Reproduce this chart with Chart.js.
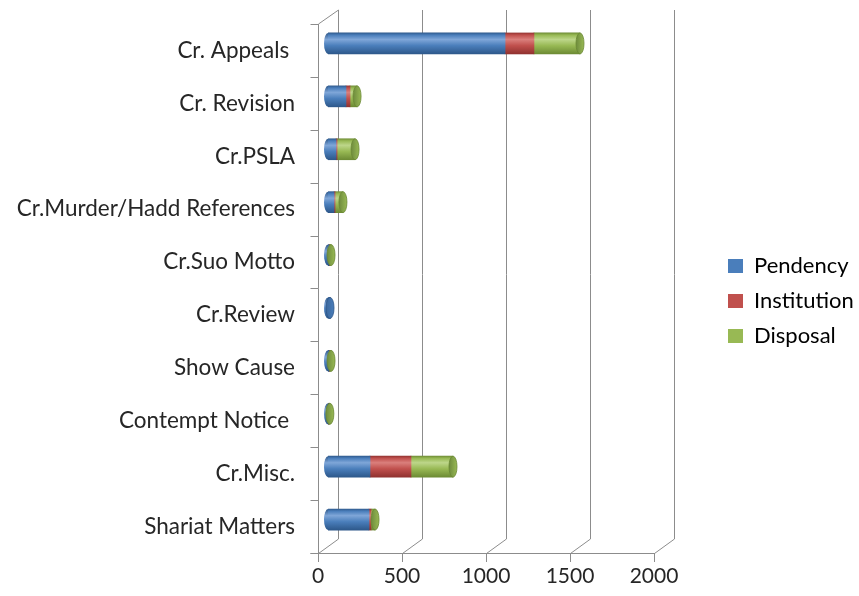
<!DOCTYPE html>
<html>
<head>
<meta charset="utf-8">
<script src="https://cdn.jsdelivr.net/npm/chart.js@4.4.1/dist/chart.umd.min.js"></script>
<style>
  html, body { margin: 0; padding: 0; background: #ffffff; }
  #wrap { width: 859px; height: 596px; position: relative; }
</style>
</head>
<body>
<div id="wrap"><canvas id="chart" width="859" height="596"></canvas></div>
<script>
// Case categories (top to bottom)
const categories = [
  'Cr. Appeals ', 'Cr. Revision', 'Cr.PSLA', 'Cr.Murder/Hadd References',
  'Cr.Suo Motto', 'Cr.Review', 'Show Cause', 'Contempt Notice ',
  'Cr.Misc.', 'Shariat Matters'
];
// Series values
const pendency    = [1054, 107, 48, 36, 6, 12, 5, 2, 250, 244];
const institution = [172,  24,  6,  6, 2,  0, 3, 1, 244,  12];
const disposal    = [274,  42, 107, 47, 10, 0, 10, 8, 250,  24];
// Value axis ticks
const xTicks = [0, 500, 1000, 1500, 2000];

const seriesNames = ['Pendency', 'Institution', 'Disposal'];
const palette = {
  Pendency:    { base: '#4A7EBB', light: '#7FA6D8', dark: '#2C5688', cap: '#3B679C' },
  Institution: { base: '#C0504D', light: '#DA7F7C', dark: '#8E302E', cap: '#9E3A37' },
  Disposal:    { base: '#98B954', light: '#BDD68A', dark: '#6A8832', cap: '#6E8B3D' }
};

const DEPTH_X = 10, DEPTH_Y = 7;   // half-depth of the 3-D box
const FONT = 'Lato, "Open Sans", sans-serif';
const TEXT = '#262626';
const FRAME = '#8C8C8C';

function barGradient(ctx, name) {
  const chart = ctx.chart;
  const c = palette[name];
  if (!chart.chartArea || !chart.scales.y) return c.base;
  const y = chart.scales.y.getPixelForValue(ctx.dataIndex);
  if (!isFinite(y)) return c.base;
  const h = 11;
  const g = chart.ctx.createLinearGradient(0, y - h, 0, y + h);
  g.addColorStop(0, c.dark);
  g.addColorStop(0.12, c.base);
  g.addColorStop(0.32, c.light);
  g.addColorStop(0.6, c.base);
  g.addColorStop(1, c.dark);
  return g;
}

// 3-D frame: back wall grid, left wall, floor
const framePlugin = {
  id: 'frame3d',
  beforeDatasetsDraw(chart) {
    const { ctx, chartArea, scales } = chart;
    const xs = scales.x, ys = scales.y;
    const fTop = chartArea.top + DEPTH_Y, fBot = chartArea.bottom + DEPTH_Y;
    const bTop = chartArea.top - DEPTH_Y, bBot = chartArea.bottom - DEPTH_Y;
    const fx = v => xs.getPixelForValue(v) - DEPTH_X;
    const bx = v => xs.getPixelForValue(v) + DEPTH_X;
    ctx.save();
    ctx.strokeStyle = FRAME;
    ctx.lineWidth = 1;
    ctx.beginPath();
    xTicks.forEach(v => {
      const xb = Math.round(bx(v)) + 0.5, xf = Math.round(fx(v)) + 0.5;
      ctx.moveTo(xb, bTop); ctx.lineTo(xb, bBot);
      ctx.moveTo(xf, fBot + 0.5); ctx.lineTo(xb, bBot);
      ctx.moveTo(xf, fBot); ctx.lineTo(xf, fBot + 9);
    });
    const x0f = Math.round(fx(0)) + 0.5;
    ctx.moveTo(x0f - 8, Math.round(fBot) + 0.5);
    ctx.lineTo(Math.round(fx(xTicks[xTicks.length - 1])) + 0.5, Math.round(fBot) + 0.5);
    ctx.moveTo(x0f, fTop); ctx.lineTo(x0f, fBot);
    ctx.moveTo(x0f, fTop); ctx.lineTo(Math.round(bx(0)) + 0.5, bTop);
    const step = (ys.getPixelForValue(1) - ys.getPixelForValue(0));
    for (let i = 0; i <= categories.length; i++) {
      const y = Math.round(ys.getPixelForValue(0) - step / 2 + i * step + DEPTH_Y) + 0.5;
      ctx.moveTo(x0f - 8, y); ctx.lineTo(x0f, y);
    }
    ctx.stroke();
    ctx.restore();
  },
  // cylinder end caps
  afterDatasetsDraw(chart) {
    const { ctx, scales } = chart;
    const xs = scales.x;
    const metas = chart.data.datasets.map((d, i) => chart.getDatasetMeta(i));
    const rx = 4;
    categories.forEach((c, i) => {
      const live = metas.filter(m => chart.data.datasets[m.index].data[i] > 0);
      if (!live.length) return;
      const first = live[0], last = live[live.length - 1];
      const elF = first.data[i], elL = last.data[i];
      const y = elF.y, ry = elF.height / 2;
      const x0 = xs.getPixelForValue(0);
      const xEnd = elL.x;
      const cF = palette[chart.data.datasets[first.index].label];
      const cL = palette[chart.data.datasets[last.index].label];
      ctx.save();
      let g = ctx.createLinearGradient(0, y - ry, 0, y + ry);
      g.addColorStop(0, cF.dark); g.addColorStop(0.32, cF.light);
      g.addColorStop(0.6, cF.base); g.addColorStop(1, cF.dark);
      ctx.fillStyle = g;
      ctx.beginPath();
      ctx.ellipse(x0, y, rx, ry, 0, Math.PI / 2, Math.PI * 1.5);
      ctx.closePath();
      ctx.fill();
      g = ctx.createLinearGradient(xEnd - rx, 0, xEnd + rx, 0);
      g.addColorStop(0, cL.cap); g.addColorStop(1, cL.base);
      ctx.fillStyle = g;
      ctx.beginPath();
      ctx.ellipse(xEnd, y, rx, ry, 0, 0, Math.PI * 2);
      ctx.fill();
      ctx.strokeStyle = cL.dark;
      ctx.lineWidth = 0.8;
      ctx.stroke();
      ctx.restore();
    });
  }
};

const seriesData = { Pendency: pendency, Institution: institution, Disposal: disposal };

new Chart(document.getElementById('chart'), {
  type: 'bar',
  data: {
    labels: categories,
    datasets: seriesNames.map(name => ({
      label: name,
      data: seriesData[name],
      backgroundColor: ctx => barGradient(ctx, name),
      borderWidth: 0,
      barThickness: 21
    }))
  },
  options: {
    indexAxis: 'y',
    responsive: false,
    animation: false,
    devicePixelRatio: 1,
    layout: { padding: { left: 0, top: 17, right: 1, bottom: 11 } },
    plugins: {
      legend: {
        position: 'right',
        labels: {
          boxWidth: 15,
          boxHeight: 14,
          padding: 13,
          color: TEXT,
          font: { family: FONT, size: 22 },
          generateLabels(chart) {
            return chart.data.datasets.map((d, i) => ({
              text: d.label,
              fillStyle: palette[d.label].base,
              strokeStyle: palette[d.label].base,
              lineWidth: 0,
              hidden: false,
              datasetIndex: i
            }));
          }
        }
      },
      tooltip: { enabled: false }
    },
    scales: {
      x: {
        stacked: true,
        min: 0,
        max: 2000,
        ticks: {
          stepSize: 500, color: TEXT, font: { family: FONT, size: 21 },
          padding: 18, labelOffset: -DEPTH_X, maxRotation: 0,
          callback: v => String(v)
        },
        grid: { display: false, drawTicks: false },
        border: { display: false },
        afterFit: s => { s.height = 39; s.paddingLeft = 0; s.paddingRight = 0; }
      },
      y: {
        stacked: true,
        grid: { display: false, drawTicks: false },
        border: { display: false },
        ticks: { color: TEXT, font: { family: FONT, size: 22.5 }, padding: 33, labelOffset: DEPTH_Y },
        afterFit: s => { s.width = 328; s.paddingTop = 0; s.paddingBottom = 0; }
      },
      gap: {
        type: 'category',
        position: 'right',
        display: true,
        grid: { display: false, drawTicks: false },
        border: { display: false },
        ticks: { display: false },
        afterFit: s => { s.width = 51; s.paddingTop = 0; s.paddingBottom = 0; }
      }
    }
  },
  plugins: [framePlugin]
});
</script>
</body>
</html>
